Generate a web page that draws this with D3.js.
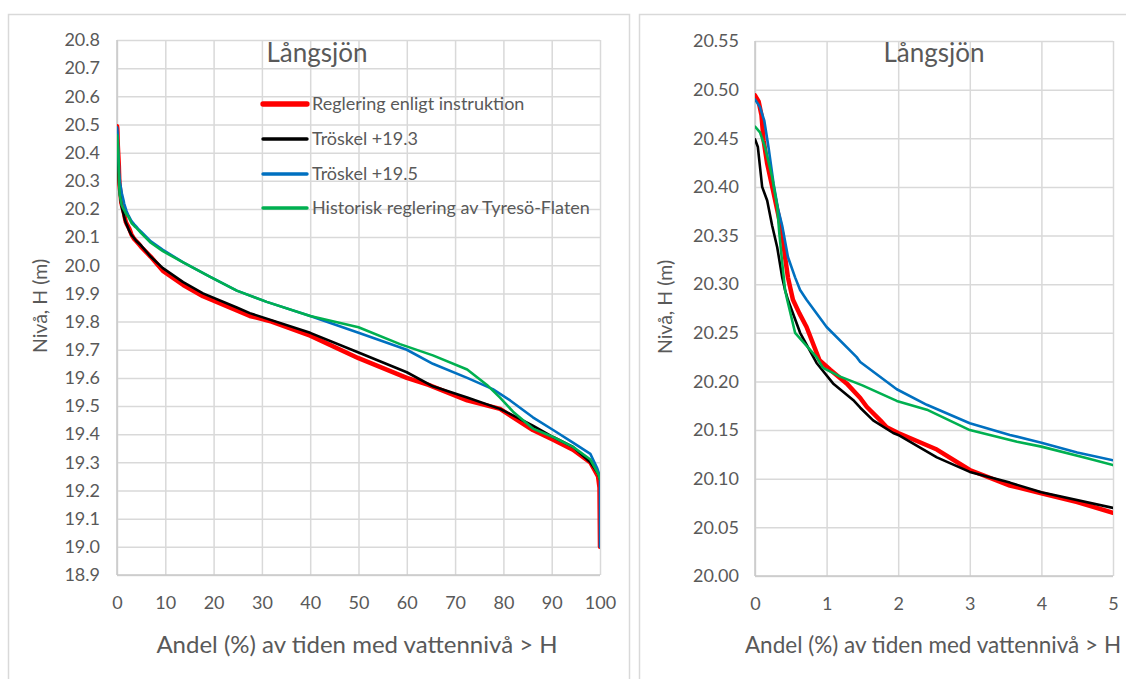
<!DOCTYPE html>
<html>
<head>
<meta charset="utf-8">
<script src="https://cdn.jsdelivr.net/npm/d3@7"></script>
<style>
  body { margin: 0; background: #fff; }
  text { font-family: Lato, "Noto Sans", sans-serif; fill: #595959; }
</style>
</head>
<body>
<svg id="chart" width="1126" height="679"></svg>
<script>
// series names / colours
var seriesNames = ["Reglering enligt instruktion", "Tröskel +19.3", "Tröskel +19.5", "Historisk reglering av Tyresö-Flaten"];
var seriesColors = ["#ff0000", "#000000", "#0070c0", "#00b050"];

// Andel (%) av tiden med vattennivå > H  /  Nivå H (m)
var instrAndel = [0, 0.05, 0.09, 0.12, 0.17, 0.25, 0.35, 0.38, 0.42, 0.46, 0.53, 0.62, 0.72, 0.9, 1.05, 1.28, 1.47, 1.56, 1.75, 1.84, 2.0, 2.54, 3.0, 3.56, 4.0, 4.5, 5.0, 7, 9.5, 13.7, 17.8, 24.8, 27.5, 32, 40, 50, 60, 64.5, 72.5, 79.3, 82, 86.1, 90.3, 94.4, 98, 99.6, 99.9, 100];
var instrNiva  = [20.494, 20.488, 20.474, 20.448, 20.424, 20.397, 20.363, 20.352, 20.328, 20.307, 20.284, 20.27, 20.256, 20.222, 20.212, 20.198, 20.183, 20.174, 20.16, 20.153, 20.147, 20.13, 20.109, 20.093, 20.085, 20.076, 20.065, 20.03, 19.98, 19.93, 19.89, 19.84, 19.82, 19.80, 19.75, 19.67, 19.60, 19.575, 19.52, 19.49, 19.46, 19.415, 19.38, 19.345, 19.30, 19.25, 19.21, 19.0];

var t193Andel = [0, 0.04, 0.1, 0.17, 0.24, 0.31, 0.38, 0.42, 0.46, 0.63, 0.86, 1.09, 1.37, 1.47, 1.65, 1.93, 2.0, 2.54, 3.0, 3.56, 4.0, 5.0, 7, 9.5, 13.7, 17.8, 24.8, 27.5, 40, 50, 60, 65.4, 72.5, 79.3, 82.8, 86.1, 90.3, 94.4, 98, 99.6, 100];
var t193Niva  = [20.449, 20.441, 20.40, 20.386, 20.36, 20.338, 20.307, 20.294, 20.284, 20.25, 20.219, 20.198, 20.181, 20.173, 20.16, 20.147, 20.145, 20.122, 20.107, 20.096, 20.086, 20.07, 20.03, 19.99, 19.94, 19.90, 19.85, 19.83, 19.76, 19.69, 19.62, 19.57, 19.53, 19.49, 19.46, 19.43, 19.39, 19.355, 19.30, 19.26, 19.24];

var t195Andel = [0, 0.07, 0.13, 0.19, 0.26, 0.32, 0.38, 0.46, 0.56, 0.63, 0.72, 1.0, 1.42, 1.47, 1.98, 2.4, 3.0, 3.56, 4.0, 4.5, 5.0, 7, 9.5, 13.7, 19.2, 24.8, 31, 40, 50, 60, 65.4, 72.5, 77.8, 81.4, 86.1, 90.3, 94.4, 98, 99.4, 100, 100];
var t195Niva  = [20.49, 20.482, 20.468, 20.44, 20.403, 20.378, 20.36, 20.328, 20.307, 20.294, 20.284, 20.256, 20.225, 20.22, 20.192, 20.176, 20.157, 20.145, 20.137, 20.127, 20.119, 20.085, 20.055, 20.01, 19.96, 19.91, 19.87, 19.82, 19.76, 19.70, 19.65, 19.60, 19.56, 19.52, 19.46, 19.415, 19.37, 19.33, 19.28, 19.25, 19.0];

var histAndel = [0, 0.07, 0.14, 0.24, 0.31, 0.34, 0.38, 0.42, 0.45, 0.56, 0.86, 0.95, 1.19, 1.5, 1.98, 2.4, 3.0, 3.66, 4.0, 4.64, 5.0, 7, 9.5, 13.7, 19.2, 24.8, 31, 40, 50, 58.6, 65.4, 72.5, 76.6, 79.3, 82, 86.1, 90.3, 94.4, 98, 99.6, 100];
var histNiva  = [20.462, 20.456, 20.441, 20.41, 20.38, 20.352, 20.322, 20.294, 20.284, 20.25, 20.225, 20.214, 20.205, 20.196, 20.18, 20.171, 20.15, 20.138, 20.133, 20.121, 20.114, 20.08, 20.05, 20.01, 19.96, 19.91, 19.87, 19.82, 19.78, 19.72, 19.68, 19.63, 19.575, 19.53, 19.48, 19.42, 19.39, 19.355, 19.31, 19.26, 19.24];

// tick labels
var leftXTicks  = [0, 10, 20, 30, 40, 50, 60, 70, 80, 90, 100];
var leftYTicks  = [18.9, 19.0, 19.1, 19.2, 19.3, 19.4, 19.5, 19.6, 19.7, 19.8, 19.9, 20.0, 20.1, 20.2, 20.3, 20.4, 20.5, 20.6, 20.7, 20.8];
var rightXTicks = [0, 1, 2, 3, 4, 5];
var rightYTicks = [20.00, 20.05, 20.10, 20.15, 20.20, 20.25, 20.30, 20.35, 20.40, 20.45, 20.50, 20.55];

var chartTitle = "Långsjön";
var xTitle = "Andel (%) av tiden med vattennivå > H";
var yTitle = "Nivå, H (m)";

var series = [
  {name: seriesNames[0], color: seriesColors[0], width: 4.5, values: d3.zip(instrAndel, instrNiva)},
  {name: seriesNames[1], color: seriesColors[1], width: 2.6, values: d3.zip(t193Andel, t193Niva)},
  {name: seriesNames[2], color: seriesColors[2], width: 2.6, values: d3.zip(t195Andel, t195Niva)},
  {name: seriesNames[3], color: seriesColors[3], width: 2.6, values: d3.zip(histAndel, histNiva)}
];

var svg = d3.select("#chart");

// panel frames (both run off the bottom of the screenshot)
svg.append("rect")
    .attr("x", 8.5).attr("y", 14.5).attr("width", 621).attr("height", 700)
    .attr("fill", "none").attr("stroke", "#d9d9d9").attr("stroke-width", 1.5);
svg.append("rect")
    .attr("x", 639.5).attr("y", 14.5).attr("width", 520).attr("height", 700)
    .attr("fill", "none").attr("stroke", "#d9d9d9").attr("stroke-width", 1.5);

function drawPanel(cfg) {
  var x = d3.scaleLinear().domain(cfg.xDomain).range([cfg.left, cfg.right]);
  var y = d3.scaleLinear().domain(cfg.yDomain).range([cfg.bottom, cfg.top]);
  var g = svg.append("g");

  // gridlines
  g.append("g")
      .attr("transform", "translate(0," + cfg.bottom + ")")
      .call(d3.axisBottom(x).tickValues(cfg.xTicks).tickSize(-(cfg.bottom - cfg.top)).tickFormat(""))
      .call(function(a){ a.select(".domain").remove(); })
      .selectAll("line").attr("stroke", "#d9d9d9").attr("stroke-width", 1.5);

  g.append("g")
      .attr("transform", "translate(" + cfg.left + ",0)")
      .call(d3.axisLeft(y).tickValues(cfg.yTicks).tickSize(-(cfg.right - cfg.left)).tickFormat(""))
      .call(function(a){ a.select(".domain").remove(); })
      .selectAll("line").attr("stroke", "#d9d9d9").attr("stroke-width", 1.5);

  // axis lines
  g.append("line")
      .attr("x1", cfg.left).attr("x2", cfg.right).attr("y1", cfg.bottom).attr("y2", cfg.bottom)
      .attr("stroke", "#c8c8c8").attr("stroke-width", 1.5);
  g.append("line")
      .attr("x1", cfg.left).attr("x2", cfg.left).attr("y1", cfg.top).attr("y2", cfg.bottom)
      .attr("stroke", "#c8c8c8").attr("stroke-width", 1.5);

  // tick labels
  var xa = g.append("g")
      .attr("transform", "translate(0," + cfg.bottom + ")")
      .call(d3.axisBottom(x).tickValues(cfg.xTicks).tickSize(0).tickPadding(21).tickFormat(cfg.xFormat));
  xa.select(".domain").remove();
  xa.attr("font-family", null);
  xa.selectAll("text").style("font-size", "18px");

  var ya = g.append("g")
      .attr("transform", "translate(" + cfg.left + ",0)")
      .call(d3.axisLeft(y).tickValues(cfg.yTicks).tickSize(0).tickPadding(cfg.yPad).tickFormat(cfg.yFormat));
  ya.select(".domain").remove();
  ya.attr("font-family", null);
  ya.selectAll("text").style("font-size", "18px");

  // data
  g.append("clipPath").attr("id", cfg.id + "-clip")
    .append("rect")
      .attr("x", cfg.left).attr("y", cfg.top)
      .attr("width", cfg.right - cfg.left).attr("height", cfg.bottom - cfg.top);

  var line = d3.line()
      .x(function(d){ return x(d[0]); })
      .y(function(d){ return y(d[1]); });

  g.append("g")
      .attr("clip-path", "url(#" + cfg.id + "-clip)")
    .selectAll("path")
    .data(series)
    .enter().append("path")
      .attr("d", function(d){ return line(d.values); })
      .attr("fill", "none")
      .attr("stroke", function(d){ return d.color; })
      .attr("stroke-width", function(d){ return d.width; })
      .attr("stroke-linejoin", "round")
      .attr("stroke-linecap", "round");

  // titles
  g.append("text")
      .attr("x", cfg.titleX).attr("y", 62)
      .attr("text-anchor", "middle")
      .style("font-size", "26px")
      .text(chartTitle);

  g.append("text")
      .attr("x", cfg.xTitleX).attr("y", 653)
      .attr("text-anchor", "middle")
      .style("font-size", cfg.xTitleSize + "px")
      .text(xTitle);

  g.append("text")
      .attr("transform", "translate(" + cfg.yTitleX + "," + cfg.yTitleY + ") rotate(-90)")
      .attr("text-anchor", "middle")
      .style("font-size", "19.5px")
      .text(yTitle);

  return g;
}

var leftPanel = drawPanel({
  id: "left", left: 117, right: 600, top: 40, bottom: 575,
  xDomain: [0, 100], yDomain: [18.9, 20.8],
  xTicks: leftXTicks, yTicks: leftYTicks,
  xFormat: d3.format("d"), yFormat: d3.format(".1f"), yPad: 17,
  titleX: 317, xTitleX: 357, xTitleSize: 24, yTitleX: 47, yTitleY: 306
});

drawPanel({
  id: "right", left: 755, right: 1113, top: 41, bottom: 576,
  xDomain: [0, 5], yDomain: [20.00, 20.55],
  xTicks: rightXTicks, yTicks: rightYTicks,
  xFormat: d3.format("d"), yFormat: d3.format(".2f"), yPad: 16,
  titleX: 934, xTitleX: 933, xTitleSize: 22.5, yTitleX: 672, yTitleY: 307
});

// legend, left panel only
var legendY = [104, 139, 174, 208];
var legend = leftPanel.append("g");
var item = legend.selectAll("g")
    .data(series)
    .enter().append("g")
    .attr("transform", function(d, i){ return "translate(263," + legendY[i] + ")"; });

item.append("line")
    .attr("x1", 0).attr("x2", 44)
    .attr("stroke", function(d){ return d.color; })
    .attr("stroke-width", function(d){ return d.width + 0.8; })
    .attr("stroke-linecap", "round");

item.append("text")
    .attr("x", 49).attr("dy", "0.36em")
    .style("font-size", "18px")
    .text(function(d){ return d.name; });
</script>
</body>
</html>
